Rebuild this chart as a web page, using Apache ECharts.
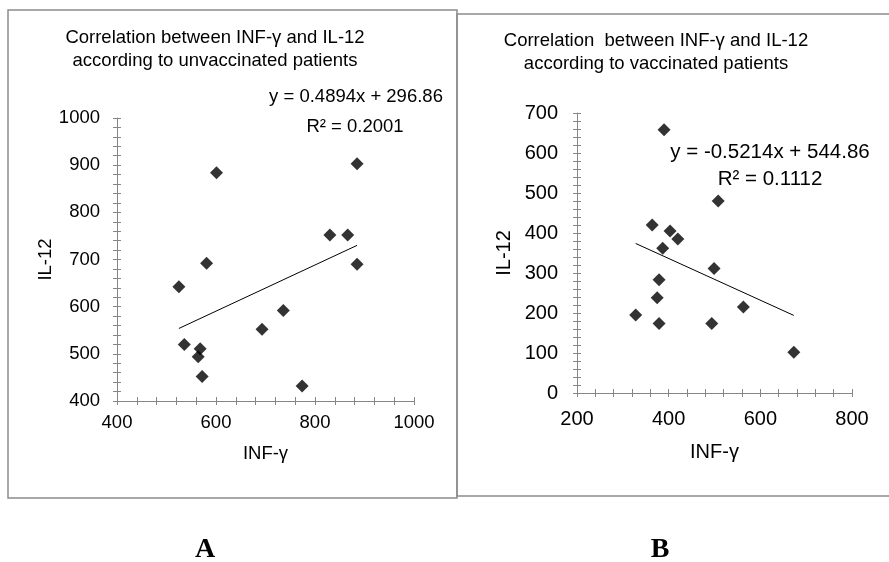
<!DOCTYPE html>
<html lang="en">
<head>
<meta charset="UTF-8">
<title>INF-γ vs IL-12</title>
<script src="https://cdn.jsdelivr.net/npm/echarts@6/dist/echarts.min.js"></script>
<style>
  html, body { margin: 0; padding: 0; background: #fff; }
  #chart { width: 889px; height: 562px; }
</style>
</head>
<body>
<div id="chart"></div>
<script>
// A - unvaccinated patients
var infA  = [525, 581, 536, 568, 564, 572, 693, 736, 774, 830, 866, 885, 885, 601];
var il12A = [642, 692, 520, 511, 494, 452, 552, 592, 432, 752, 752, 690, 903, 884];
var fitA  = [0.4894, 296.86];          // slope, intercept
var xAxisA = [400, 1000, 200];         // min, max, step
var yAxisA = [400, 1000, 100];

// B - vaccinated patients
var infB  = [508, 364, 403, 420, 387, 499, 379, 375, 328, 379, 494, 563, 673, 390];
var il12B = [480, 420, 405, 385, 362, 311, 283, 238, 195, 174, 174, 215, 102, 658];
var fitB  = [-0.5214, 544.86];
var xAxisB = [200, 800, 200];
var yAxisB = [0, 700, 100];

var titleA = 'Correlation between INF-γ and IL-12\naccording to unvaccinated patients';
var titleB = 'Correlation  between INF-γ and IL-12\naccording to vaccinated patients';
var eqA = ['y = 0.4894x + 296.86', 'R² = 0.2001'];
var eqB = ['y = -0.5214x + 544.86', 'R² = 0.1112'];

var FONT = 'Liberation Sans, Arial, sans-serif';
var AXIS_GREY = '#868686';

function pairs(xs, ys) {
  return xs.map(function (x, i) { return [x, ys[i]]; });
}

// trend line from smallest to largest x
function trend(xs, fit) {
  var lo = Math.min.apply(null, xs), hi = Math.max.apply(null, xs);
  return [[lo, fit[0] * lo + fit[1]], [hi, fit[0] * hi + fit[1]]];
}

// main axis (ticks outside) or inner copy (ticks inside) -> crossing ticks
function valAxis(range, grid, inner, fs, margin, name, gap) {
  return {
    type: 'value', gridIndex: grid,
    min: range[0], max: range[1], interval: range[2],
    name: inner ? '' : name, nameLocation: 'middle', nameGap: gap,
    nameTextStyle: { color: '#000', fontSize: fs, fontFamily: FONT },
    axisLine: { show: !inner, lineStyle: { color: AXIS_GREY, width: 1 } },
    axisTick: { show: true, inside: inner, length: 4, lineStyle: { color: AXIS_GREY } },
    minorTick: { show: true, splitNumber: 5, length: 4, lineStyle: { color: AXIS_GREY } },
    axisLabel: { show: !inner, color: '#000', fontSize: fs, fontFamily: FONT, margin: margin,
      formatter: function (v) { return String(v); } },
    splitLine: { show: false }
  };
}

var gridA = { left: 117, top: 118, width: 297, height: 283 };
var gridB = { left: 577, top: 113, width: 275, height: 280 };

var chart = echarts.init(document.getElementById('chart'));
var option = {
  animation: false,
  backgroundColor: '#fff',
  title: [
    { text: titleA, left: 215, top: 26, padding: 0, textAlign: 'center',
      textStyle: { fontSize: 18.5, lineHeight: 23, fontWeight: 'normal', color: '#000', fontFamily: FONT } },
    { text: titleB, left: 656, top: 29, padding: 0, textAlign: 'center',
      textStyle: { fontSize: 18.5, lineHeight: 23, fontWeight: 'normal', color: '#000', fontFamily: FONT } }
  ],
  grid: [gridA, gridA, gridB, gridB],
  xAxis: [
    valAxis(xAxisA, 0, false, 18.5, 12, 'INF-γ', 43),
    valAxis(xAxisA, 1, true, 18.5, 12, '', 0),
    valAxis(xAxisB, 2, false, 20, 16, 'INF-γ', 49),
    valAxis(xAxisB, 3, true, 20, 16, '', 0)
  ],
  yAxis: [
    valAxis(yAxisA, 0, false, 18.5, 17, 'IL-12', 62),
    valAxis(yAxisA, 1, true, 18.5, 17, '', 0),
    valAxis(yAxisB, 2, false, 20, 19, 'IL-12', 63),
    valAxis(yAxisB, 3, true, 20, 19, '', 0)
  ],
  series: [
    { type: 'scatter', xAxisIndex: 0, yAxisIndex: 0, symbol: 'diamond', symbolSize: 13,
      itemStyle: { color: '#000' }, data: pairs(infA, il12A), z: 3 },
    { type: 'line', xAxisIndex: 0, yAxisIndex: 0, symbol: 'none',
      lineStyle: { color: '#000', width: 1 }, data: trend(infA, fitA) },
    { type: 'scatter', xAxisIndex: 2, yAxisIndex: 2, symbol: 'diamond', symbolSize: 13,
      itemStyle: { color: '#000' }, data: pairs(infB, il12B), z: 3 },
    { type: 'line', xAxisIndex: 2, yAxisIndex: 2, symbol: 'none',
      lineStyle: { color: '#000', width: 1 }, data: trend(infB, fitB) }
  ],
  graphic: [
    // chart frames
    { type: 'rect', shape: { x: 8, y: 10, width: 449, height: 488 },
      style: { fill: 'none', stroke: '#8c8c8c', lineWidth: 1.5 }, z: -1 },
    { type: 'rect', shape: { x: 457, y: 14, width: 440, height: 482 },
      style: { fill: 'none', stroke: '#8c8c8c', lineWidth: 1.5 }, z: -1 },
    // trendline equations
    { type: 'text', x: 356, y: 97, style: { text: eqA[0], fontSize: 18.5, fontFamily: FONT, fill: '#000', align: 'center', verticalAlign: 'middle' } },
    { type: 'text', x: 355, y: 127, style: { text: eqA[1], fontSize: 18.5, fontFamily: FONT, fill: '#000', align: 'center', verticalAlign: 'middle' } },
    { type: 'text', x: 770, y: 152, style: { text: eqB[0], fontSize: 20.5, fontFamily: FONT, fill: '#000', align: 'center', verticalAlign: 'middle' } },
    { type: 'text', x: 770, y: 179, style: { text: eqB[1], fontSize: 20.5, fontFamily: FONT, fill: '#000', align: 'center', verticalAlign: 'middle' } },
    // panel letters
    { type: 'text', x: 205, y: 550, style: { text: 'A', fontSize: 28, fontWeight: 'bold', fontFamily: 'Liberation Serif, Times New Roman, serif', fill: '#000', align: 'center', verticalAlign: 'middle' } },
    { type: 'text', x: 660, y: 550, style: { text: 'B', fontSize: 28, fontWeight: 'bold', fontFamily: 'Liberation Serif, Times New Roman, serif', fill: '#000', align: 'center', verticalAlign: 'middle' } }
  ]
};
chart.setOption(option);
</script>
</body>
</html>
